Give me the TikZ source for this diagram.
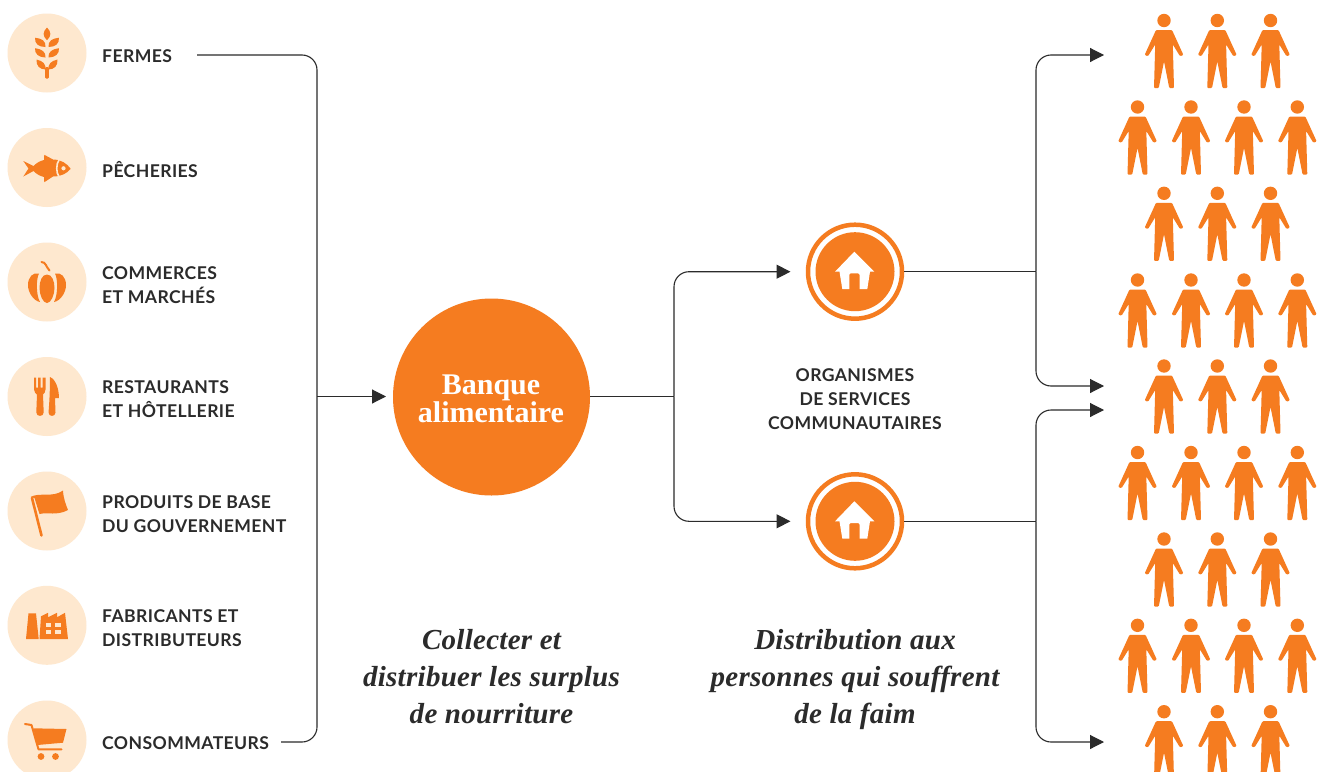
\documentclass[tikz,border=0pt]{standalone}
\usepackage{fontspec}
\setmainfont[LetterSpace=2.3]{Lato}
\newfontfamily\serifa[LetterSpace=1]{Liberation Serif}
\newfontfamily\serifb{Liberation Serif}
\usetikzlibrary{arrows.meta}
\definecolor{org}{HTML}{F57C20}
\definecolor{pale}{HTML}{FEE8CF}
\definecolor{ink}{HTML}{2B2B2B}
\tikzset{
  iconbg/.style={circle,fill=pale,draw=none,minimum size=79pt,inner sep=0pt},
  lab/.style={anchor=west,align=left,inner sep=0pt,text=ink,font=\fontsize{17.6}{24}\selectfont\bfseries},
  midlab/.style={align=center,inner sep=0pt,text=ink,font=\fontsize{17.6}{24}\selectfont\bfseries},
  tagline/.style={align=center,inner sep=0pt,text=ink,font=\serifa\fontsize{29}{37}\selectfont\bfseries\itshape},
  hub/.style={circle,fill=org,minimum size=197pt,inner sep=0pt},
  hubtext/.style={text=white,align=center,inner sep=0pt,font=\serifb\fontsize{30}{28}\selectfont\bfseries},
  homering/.style={circle,draw=org,line width=4.5pt,fill=white,minimum size=94pt,inner sep=0pt},
  conn/.style={draw=ink,line width=1.1pt,rounded corners=15pt},
  arr/.style={conn,-{Triangle[length=14pt,width=14pt]}},
  person/.pic={
    \fill[org] (0,0) circle (6.7);
    \fill[org,rounded corners=1pt] (-8,9.5) -- (8,9.5) -- (19.4,34.5) -- (16,35.7) -- (8.8,24) -- (10,67.6) -- (5.3,67.6) -- (0,41) -- (-5.3,67.6) -- (-10,67.6) -- (-8.8,24) -- (-16,35.7) -- (-19.4,34.5) -- cycle;
  },
  house/.pic={
    \fill[white] (-0.7,-20) -- (19.3,0) -- (15,0) -- (12.3,17.3) -- (4.5,17.3) -- (4.5,3) -- (3.3,1.7) -- (-4.5,1.7) -- (-5.7,3) -- (-5.7,17.3) -- (-12.7,17.3) -- (-15.5,0) -- (-20,0) -- cycle;
  }
}
\begin{document}
\begin{tikzpicture}[x=1pt,y=-1pt]
\clip (0,0) rectangle (1322,771);
\fill[white] (0,0) rectangle (1322,771);
% source circles
\node[iconbg] (c1) at (47,53) {};
\node[iconbg] (c2) at (47,167.5) {};
\node[iconbg] (c3) at (47,282) {};
\node[iconbg] (c4) at (47,396.5) {};
\node[iconbg] (c5) at (47,511) {};
\node[iconbg] (c6) at (47,625.3) {};
\node[iconbg] (c7) at (47,740) {};
% wheat
\begin{scope}[shift={(47,53)}]
 \fill[org] (0,-25.5) .. controls (4.5,-21) and (4.5,-17) .. (0,-12.8) .. controls (-4.5,-17) and (-4.5,-21) .. (0,-25.5) -- cycle;
 \foreach \s in {-1,1}{
  \begin{scope}[xscale=\s]
  \fill[org] (12,-15.3) .. controls (12.5,-9) and (8,-6) .. (1.5,-6) .. controls (1,-12) and (5,-14.5) .. (12,-15.3) -- cycle;
  \fill[org] (12,-4.8) .. controls (12.5,1) and (8,4.5) .. (1.5,4.5) .. controls (1,-1) and (5,-4) .. (12,-4.8) -- cycle;
  \fill[org] (10.5,6.5) .. controls (11,13) and (7,16.5) .. (1.5,16.5) .. controls (1,11) and (4,8) .. (10.5,6.5) -- cycle;
  \end{scope}}
 \fill[org,rounded corners=1pt] (-1.8,14) rectangle (1.8,25.5);
\end{scope}
% fish
\begin{scope}[shift={(47,167.5)}]
 \fill[org] (-23.7,-6.5) -- (-13.5,-1.5) .. controls (-10,-5) and (-7,-6.5) .. (-3,-7.5) -- (-2.7,-12.7) -- (6,-8) .. controls (14,-8) and (20,-4) .. (23.7,1.3) .. controls (20,6) and (14,9) .. (6,9) -- (-2.7,14.7) -- (-3,9.5) .. controls (-7,8.5) and (-10,7) .. (-13.5,3.5) -- (-23.7,9) -- (-18.5,1) -- cycle;
 \draw[pale,line width=1.6pt] (12,-7.5) .. controls (9,-4) and (9,6) .. (12,9);
 \fill[pale] (16.5,0.8) circle (2.1);
\end{scope}
% pumpkin
\begin{scope}[shift={(47,282)}]
 \fill[org] (0,-7.5) .. controls (5,-7.5) and (7.5,-1) .. (7.5,6) .. controls (7.5,13) and (4,21) .. (0,21) .. controls (-4,21) and (-7.5,13) .. (-7.5,6) .. controls (-7.5,-1) and (-5,-7.5) .. (0,-7.5) -- cycle;
 \foreach \s in {-1,1}{
 \begin{scope}[xscale=\s]
 \fill[org] (8,-8.5) .. controls (14,-10) and (19,-5) .. (19,3) .. controls (19,11) and (13,19) .. (7,20) .. controls (11,13) and (11,-3) .. (8,-8.5) -- cycle;
 \end{scope}}
 \draw[org,line width=2pt,line cap=round] (-5.5,-20) .. controls (-1,-20) and (-1,-15) .. (2.5,-11.5);
\end{scope}
% fork and knife
\begin{scope}[shift={(47,396.5)}]
 \fill[org] (-13,-19) -- (-11,-19) -- (-11,-9) -- (-9,-9) -- (-9,-19) -- (-6.3,-19) -- (-6.3,-9) -- (-4.3,-9) -- (-4.3,-19) -- (-1.5,-19) -- (-1.5,-7) .. controls (-1.5,-4) and (-3,-3) .. (-4,-2) -- (-3.3,16) .. controls (-3.3,20.5) and (-10.7,20.5) .. (-10.7,16) -- (-10,-2) .. controls (-11,-3) and (-13,-4) .. (-13,-7) -- cycle;
 \fill[org] (3,-19.5) .. controls (9,-17) and (12,-7) .. (12,1.7) -- (8,1.7) -- (8.5,16) .. controls (8.5,20.5) and (1.5,20.5) .. (1.5,16) .. controls (2.5,5) and (3,-8) .. (3,-19.5) -- cycle;
\end{scope}
% flag
\begin{scope}[shift={(47,511)}]
 \draw[org,line width=2.6pt,line cap=round] (-15,-13) -- (-5.5,24.5);
 \fill[org] (-16.5,-14) .. controls (-8,-19) and (6,-13) .. (16,-20.5) .. controls (16.5,-12) and (19,-6) .. (21,-1) .. controls (10,5) and (0,1) .. (-7.5,3) -- (-12.5,-13) -- cycle;
\end{scope}
% factory
\begin{scope}[shift={(47,625.3)}]
 \fill[org] (-18.5,-12) -- (-11,-12) -- (-8.3,13.7) -- (-21,13.7) -- cycle;
 \fill[org] (-7.5,13.7) -- (-6,-9) -- (1,-12.5) -- (1,-8) -- (10,-12.5) -- (10,-8) -- (18,-12.5) -- (21,13.7) -- cycle;
 \fill[pale] (-1,-2) rectangle (4,1.7);
 \fill[pale] (8,-2) rectangle (13.5,1.7);
 \fill[pale] (-1,5) rectangle (4,9);
 \fill[pale] (8,5) rectangle (13.5,9);
\end{scope}
% cart
\begin{scope}[shift={(47,740)}]
 \fill[org] (-13.7,-11.7) -- (19.5,-11) -- (16,2.7) -- (-9.5,5) -- cycle;
 \draw[org,line width=2pt,line cap=round,line join=round] (-22,-16) -- (-15.5,-15) -- (-8.5,9.3) -- (14.5,9.3);
 \fill[org] (-6,16.5) circle (3.4);
 \fill[org] (8.5,16.5) circle (3.4);
\end{scope}
% labels
\node[lab] (l1) at (102,56.5) {FERMES};
\node[lab] (l2) at (102,169.5) {PÊCHERIES};
\node[lab] (l3) at (102,285.5) {COMMERCES\\ET MARCHÉS};
\node[lab] (l4) at (102,399.5) {RESTAURANTS\\ET HÔTELLERIE};
\node[lab] (l5) at (102,514.5) {PRODUITS DE BASE\\DU GOUVERNEMENT};
\node[lab] (l6) at (102,628.5) {FABRICANTS ET\\DISTRIBUTEURS};
\node[lab] (l7) at (102,743.5) {CONSOMMATEURS};
% hub
\node[hub] (hub) at (491.5,397) {};
\node[hubtext] (hubtext) at (491,399) {Banque\\alimentaire};
% homes
\node[homering] (h1) at (855,271.7) {};
\node[homering] (h2) at (855,521.3) {};
\fill[org] (h1) circle (39.5);
\fill[org] (h2) circle (39.5);
\pic at (855,271.7) {house};
\pic at (855,521.3) {house};
\node[midlab] (m) at (855,399.5) {ORGANISMES\\DE SERVICES\\COMMUNAUTAIRES};
\node[tagline] (t1) at (491.5,677) {Collecter et\\distribuer les surplus\\de nourriture};
\node[tagline] (t2) at (855,680) {Distribution aux\\personnes qui souffrent\\de la faim};
% connector coordinates
\coordinate (s1) at (197,55);
\coordinate (s7) at (281,742);
\coordinate (bus) at (317,396.5);
\coordinate (split) at (674,396.5);
\coordinate (j1) at (1036,271.7);
\coordinate (j2) at (1036,521.3);
\coordinate (a1) at (1104,55);
\coordinate (a2) at (1104,386);
\coordinate (a3) at (1104,410);
\coordinate (a4) at (1104,742);
\coordinate (ah1) at (790.5,271.7);
\coordinate (ah2) at (790.5,521.3);
\coordinate (ahub) at (386,396.5);
% connectors
\path[conn] (s1) -| (bus) |- (s7);
\path[arr] (bus) -- (ahub);
\path[conn] (hub.east |- split) -- (split);
\path[arr] (split) |- (ah1);
\path[arr] (split) |- (ah2);
\path[conn] (h1.east) -- (j1);
\path[conn] (h2.east) -- (j2);
\path[arr] (j1) |- (a1);
\path[arr] (j1) |- (a2);
\path[arr] (j2) |- (a3);
\path[arr] (j2) |- (a4);
% people
\foreach \y in {20.5,193.3,366,539,711.7}{
  \foreach \x in {1164,1217.3,1270.5}{ \pic at (\x,\y) {person}; }}
\foreach \y in {107,280,452.5,625.3}{
  \foreach \x in {1137.5,1191,1244,1297.3}{ \pic at (\x,\y) {person}; }}
\end{tikzpicture}
\end{document}
